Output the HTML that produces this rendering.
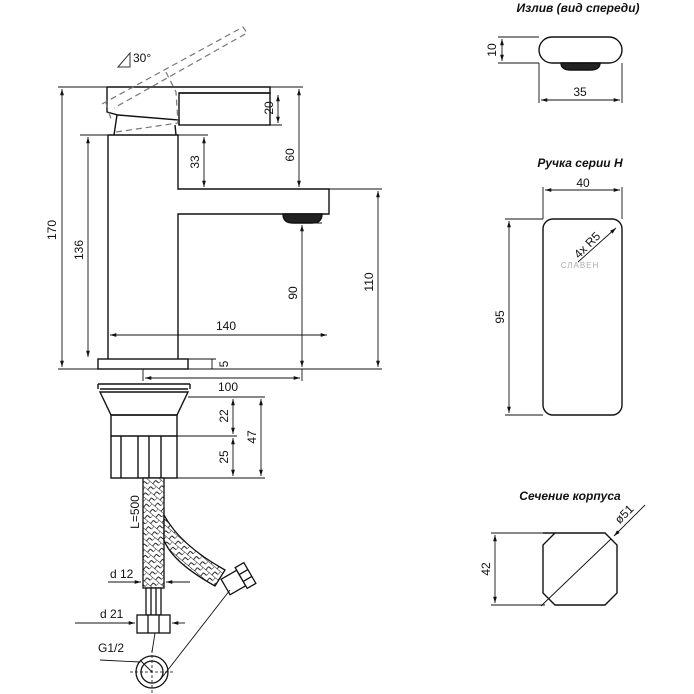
<!DOCTYPE html>
<html><head><meta charset="utf-8"><style>
html,body{margin:0;padding:0;background:#fff;}
svg{display:block;}
text{font-family:"Liberation Sans","DejaVu Sans",sans-serif;fill:#111;}
.t{font-size:12px;}
.h{font-size:12px;font-style:italic;font-weight:bold;}
</style></head><body>
<svg width="694" height="694" viewBox="0 0 694 694" xmlns="http://www.w3.org/2000/svg">
<defs>
<marker id="a" viewBox="0 0 10 10" refX="10" refY="5" markerWidth="7" markerHeight="7" orient="auto-start-reverse"><path d="M0,2 L10,5 L0,8 z" fill="#111"/></marker>
<pattern id="br" width="8" height="8" patternUnits="userSpaceOnUse" patternTransform="rotate(40)">
<rect width="8" height="8" fill="#fff"/><path d="M0,0 H8 M0,0 V4 M4,4 H8 M4,4 V8" stroke="#222" stroke-width="0.9" fill="none"/>
</pattern>
</defs>
<g fill="none" stroke="#111" stroke-width="1.4">
<!-- handle -->
<path d="M107,87 H270 V93 H179"/>
<path d="M107,87 V112 L118,115 L179,120 V125 H179"/>
<rect x="179" y="93" width="91" height="32"/>
<path d="M117,115 L114,135 M175,125 L176,135"/>
<!-- body -->
<path d="M108,135 H178 V189 H329 V214 H178 V359 M108,135 V359"/>
<rect x="98" y="359" width="90" height="10"/>
<path d="M283,214 H322 Q322,223 312,223 H293 Q283,223 283,214 Z" fill="#222"/>
<!-- under sink -->
<path d="M98,384 H190 M100,389 H188 M98,384 V389 M190,384 V389"/>
<path d="M100,392 H188 L177,415 H111 Z"/>
<rect x="111" y="415" width="66" height="63"/>
<path d="M111,436 H177 M121,436 V478 M138,436 V478 M149,436 V478 M161,436 V478"/>
</g>
<!-- dashed handle -->
<g fill="none" stroke="#777" stroke-width="1.2" stroke-dasharray="6,4">
<path d="M102,104 L243,27 L247,33 L114,108"/>
<path d="M106,103 L112,122 M166,72 L176,92 L178,123 L116,132"/>
</g>
<path d="M118,67 L130,53 L130,67 Z" fill="none" stroke="#333" stroke-width="1"/>
<text x="133" y="62" class="t">30°</text>
<!-- hose -->
<rect x="143" y="478" width="21" height="110" fill="url(#br)" stroke="#111" stroke-width="1.3"/>
<path d="M164,515 Q180,545 225,570 L215,586 Q172,562 164,540 Z" fill="url(#br)" stroke="#111" stroke-width="1.3"/>
<g fill="#fff" stroke="#111" stroke-width="1.3">
<rect x="146" y="588" width="15" height="27"/>
<path d="M151,588 V615 M156,588 V615"/>
<rect x="137" y="615" width="33" height="18"/>
<path d="M148,615 V633 M159,615 V633"/>
<g transform="translate(236,581) rotate(-30)"><rect x="-12" y="-9" width="18" height="18"/><rect x="6" y="-12" width="10" height="24"/><path d="M6,-4 H16 M6,4 H16"/></g>
<circle cx="152" cy="672" r="16"/><circle cx="152" cy="672" r="11"/>
<path d="M152,650 V694 M130,672 H174" stroke-dasharray="3,2" stroke-width="0.8"/>
<path d="M152,672 L140,660 M160,680 L230,590 M152,652 L155,633" stroke-width="0.9" fill="none"/>
</g>
<!-- dimensions -->
<g stroke="#111" stroke-width="0.9" fill="none">
<path d="M58,87 H107 M270,87 H303 M58,369 H98 M80,135 H108 M178,135 H208 M188,369 H382 M329,189 H382 M270,125 H282 M188,359 H216 M322,223 H306"/>
<path d="M62,89 V367" marker-start="url(#a)" marker-end="url(#a)"/>
<path d="M88,137 V357" marker-start="url(#a)" marker-end="url(#a)"/>
<path d="M204,137 V187" marker-start="url(#a)" marker-end="url(#a)"/>
<path d="M299,89 V187" marker-start="url(#a)" marker-end="url(#a)"/>
<path d="M278,95 V123" marker-start="url(#a)" marker-end="url(#a)"/>
<path d="M302,225 V367" marker-start="url(#a)" marker-end="url(#a)"/>
<path d="M378,191 V367" marker-start="url(#a)" marker-end="url(#a)"/>
<path d="M110,335 H327" marker-start="url(#a)" marker-end="url(#a)"/>
<path d="M212,359 V369"/>
<path d="M143,369 V381 M302,369 V381"/>
<path d="M145,378 H300" marker-start="url(#a)" marker-end="url(#a)"/>
<path d="M188,397 H265 M177,436 H237 M177,478 H265"/>
<path d="M233,399 V434" marker-start="url(#a)" marker-end="url(#a)"/>
<path d="M233,438 V476" marker-start="url(#a)" marker-end="url(#a)"/>
<path d="M261,399 V476" marker-start="url(#a)" marker-end="url(#a)"/>
<path d="M108,582 H141" marker-end="url(#a)"/><path d="M190,582 H166" marker-end="url(#a)"/>
<path d="M75,623 H135" marker-end="url(#a)"/><path d="M185,623 H172" marker-end="url(#a)"/>
<path d="M100,660 L140,662"/>
</g>
<g class="t">
<text transform="translate(56,230) rotate(-90)" text-anchor="middle">170</text>
<text transform="translate(83,250) rotate(-90)" text-anchor="middle">136</text>
<text transform="translate(199,162) rotate(-90)" text-anchor="middle">33</text>
<text transform="translate(294,155) rotate(-90)" text-anchor="middle">60</text>
<text transform="translate(273,108) rotate(-90)" text-anchor="middle">20</text>
<text transform="translate(297,293) rotate(-90)" text-anchor="middle">90</text>
<text transform="translate(373,282) rotate(-90)" text-anchor="middle">110</text>
<text transform="translate(228,364) rotate(-90)" text-anchor="middle">5</text>
<text x="226" y="330" text-anchor="middle">140</text>
<text x="228" y="391" text-anchor="middle">100</text>
<text transform="translate(228,416) rotate(-90)" text-anchor="middle">22</text>
<text transform="translate(228,457) rotate(-90)" text-anchor="middle">25</text>
<text transform="translate(256,437) rotate(-90)" text-anchor="middle">47</text>
<text transform="translate(139,512) rotate(-90)" text-anchor="middle">L=500</text>
<text x="110" y="578">d 12</text>
<text x="100" y="618">d 21</text>
<text x="98" y="652">G1/2</text>
</g>
<!-- right views -->
<text x="578" y="12" class="h" text-anchor="middle">Излив (вид спереди)</text>
<g fill="none" stroke="#111" stroke-width="1.4">
<rect x="539" y="37" width="83" height="26" rx="13"/>
<path d="M561,63 H600 Q600,70 590,70 H571 Q561,70 561,63 Z" fill="#222"/>
<rect x="543" y="219" width="79" height="196" rx="10"/>
<path d="M543,533 H605 L617,545 V593 L605,605 H555 L543,593 V545 L555,533 Z"/>
</g>
<g stroke="#111" stroke-width="0.9" fill="none">
<path d="M498,37 H539 M498,63 H539 M539,63 V103 M622,63 V103"/>
<path d="M502,39 V61" marker-start="url(#a)" marker-end="url(#a)"/>
<path d="M541,100 H620" marker-start="url(#a)" marker-end="url(#a)"/>
<path d="M543,187 V219 M622,187 V219 M505,219 H543 M505,415 H543"/>
<path d="M545,190 H620" marker-start="url(#a)" marker-end="url(#a)"/>
<path d="M509,221 V413" marker-start="url(#a)" marker-end="url(#a)"/>
<path d="M578,262 L616,228" marker-end="url(#a)"/>
<path d="M491,533 H560 M491,605 H545"/>
<path d="M495,535 V603" marker-start="url(#a)" marker-end="url(#a)"/>
<path d="M541,606 L611,539"/><path d="M645,505 L614,536" marker-end="url(#a)"/>
</g>
<text x="580" y="167" class="h" text-anchor="middle">Ручка серии H</text>
<text x="496" y="50" class="t" transform="rotate(-90 496 50)" text-anchor="middle">10</text>
<text x="580" y="96" class="t" text-anchor="middle">35</text>
<text x="583" y="187" class="t" text-anchor="middle">40</text>
<text transform="translate(504,317) rotate(-90)" class="t" text-anchor="middle">95</text>
<text transform="translate(590,248) rotate(-45)" class="t" text-anchor="middle">4x R5</text>
<text x="580" y="268" text-anchor="middle" style="font-size:8px;fill:#aaa;letter-spacing:1px">СЛАВЕН</text>
<text x="570" y="500" class="h" text-anchor="middle">Сечение корпуса</text>
<text transform="translate(490,569) rotate(-90)" class="t" text-anchor="middle">42</text>
<text transform="translate(627,517) rotate(-45)" class="t" text-anchor="middle">ø51</text>
</svg>
</body></html>
